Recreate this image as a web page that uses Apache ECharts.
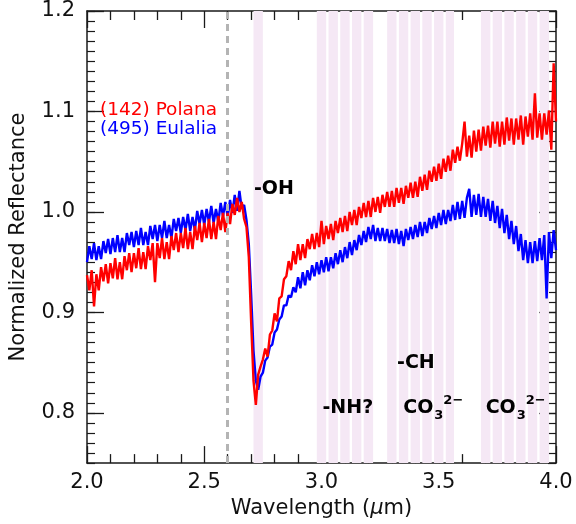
<!DOCTYPE html>
<html>
<head>
<meta charset="utf-8">
<script src="https://cdn.jsdelivr.net/npm/echarts@6/dist/echarts.min.js"></script>
<style>
html,body{margin:0;padding:0;background:#fff;}
#chart{width:576px;height:524px;}
</style>
</head>
<body>
<div id="chart"></div>
<script>
// Wavelength grid (µm): start and spacing of the spectra samples
const wavelengthStart = 2.0;
const wavelengthStep = 0.01;

// (142) Polana normalized reflectance, 2.00 .. 4.00 µm
const polana = [
0.937,0.922,0.942,0.906,0.938,0.922,0.945,0.931,0.948,0.929,
0.949,0.934,0.954,0.933,0.950,0.933,0.956,0.942,0.959,0.940,
0.959,0.944,0.964,0.943,0.960,0.943,0.966,0.952,0.969,0.930,
0.969,0.954,0.974,0.953,0.970,0.953,0.976,0.962,0.979,0.960,
0.979,0.964,0.984,0.963,0.980,0.963,0.986,0.972,0.989,0.970,
0.989,0.974,0.993,0.973,0.990,0.973,0.996,0.982,0.999,0.980,
0.999,0.988,1.008,0.997,1.014,1.000,1.010,0.993,0.985,0.955,
0.890,0.832,0.808,0.838,0.846,0.853,0.864,0.856,0.878,0.882,
0.899,0.891,0.914,0.916,0.933,0.936,0.951,0.942,0.961,0.948,
0.968,0.952,0.968,0.954,0.973,0.963,0.978,0.963,0.979,0.965,
0.991,0.968,0.986,0.973,0.988,0.972,0.991,0.979,0.994,0.980,
0.996,0.981,1.000,0.987,1.002,0.987,1.005,0.994,1.009,0.995,
1.011,0.995,1.014,1.000,1.015,0.999,1.017,1.005,1.020,1.005,
1.021,1.005,1.024,1.009,1.024,1.008,1.026,1.014,1.029,1.014,
1.030,1.015,1.035,1.021,1.037,1.022,1.041,1.030,1.045,1.031,
1.048,1.033,1.053,1.040,1.056,1.041,1.062,1.049,1.065,1.051,
1.068,1.090,1.055,1.076,1.054,1.081,1.060,1.082,1.061,1.085,
1.066,1.086,1.064,1.090,1.068,1.090,1.065,1.090,1.067,1.094,
1.071,1.093,1.067,1.093,1.072,1.096,1.067,1.095,1.075,1.098,
1.072,1.118,1.074,1.098,1.072,1.098,1.077,1.101,1.062,1.148,
1.090
];

// (495) Eulalia normalized reflectance, 2.00 .. 4.00 µm
const eulalia = [
0.950,0.966,0.953,0.969,0.952,0.966,0.953,0.971,0.959,0.973,
0.958,0.974,0.960,0.977,0.960,0.974,0.960,0.979,0.967,0.980,
0.965,0.981,0.967,0.984,0.967,0.980,0.967,0.986,0.973,0.987,
0.971,0.987,0.974,0.991,0.974,0.987,0.974,0.993,0.981,0.994,
0.979,0.995,0.982,0.998,0.981,0.995,0.982,1.001,0.988,1.002,
0.987,1.003,0.990,1.006,0.989,1.003,0.990,1.009,0.996,1.010,
0.995,1.012,0.999,1.017,1.001,1.021,1.003,1.007,0.992,0.968,
0.918,0.862,0.832,0.823,0.836,0.840,0.852,0.855,0.866,0.868,
0.880,0.883,0.893,0.896,0.907,0.907,0.917,0.915,0.925,0.920,
0.935,0.924,0.940,0.927,0.942,0.932,0.947,0.936,0.950,0.938,
0.952,0.940,0.955,0.941,0.955,0.944,0.959,0.948,0.962,0.950,
0.965,0.954,0.970,0.957,0.972,0.962,0.977,0.967,0.981,0.970,
0.985,0.973,0.987,0.971,0.984,0.971,0.984,0.971,0.983,0.969,
0.982,0.969,0.983,0.968,0.981,0.966,0.983,0.972,0.985,0.973,
0.987,0.975,0.990,0.976,0.990,0.979,0.994,0.983,0.996,0.984,
0.999,0.987,1.002,0.988,1.002,0.991,1.007,0.992,1.010,0.993,
1.011,0.994,1.014,1.023,0.995,1.017,0.997,1.018,0.995,1.015,
0.995,1.013,0.991,1.011,0.989,1.006,0.984,1.003,0.979,0.997,
0.973,0.991,0.968,0.986,0.961,0.978,0.952,0.972,0.949,0.970,
0.949,0.971,0.951,0.974,0.952,0.977,0.914,0.980,0.954,0.982,
0.962
];

// Absorption band regions (µm)
const bandStart = [2.71, 2.98, 3.03, 3.08, 3.13, 3.18, 3.28, 3.33, 3.38, 3.43, 3.48, 3.53, 3.68, 3.73, 3.78, 3.83, 3.88, 3.93];
const bandEnd   = [2.75, 3.02, 3.07, 3.12, 3.17, 3.22, 3.32, 3.37, 3.42, 3.47, 3.52, 3.565, 3.72, 3.77, 3.82, 3.87, 3.92, 3.97];

// Reference wavelength line
const refLine = [2.6];

// Axis ticks
const xMin = 2.0, xMax = 4.0, xInterval = 0.5;
const yMin = 0.75, yMax = 1.2;
const yLabelTicks = [0.8, 0.9, 1.0, 1.1, 1.2];

const seriesNames = ['(142) Polana', '(495) Eulalia'];

const wl = polana.map((_, i) => +(wavelengthStart + i * wavelengthStep).toFixed(3));
const polanaData = polana.map((v, i) => [wl[i], v]);
const eulaliaData = eulalia.map((v, i) => [wl[i], v]);

const FONT = 'DejaVu Sans';
const AXC = '#1a1a1a';

const chart = echarts.init(document.getElementById('chart'), null, {renderer: 'canvas'});

function xAx(pos, labels) {
  return {
    type: 'value', position: pos, min: xMin, max: xMax, interval: xInterval,
    axisLine: {show: true, onZero: false, lineStyle: {color: AXC, width: 1.5}},
    axisTick: {show: true, inside: true, length: 17, lineStyle: {color: AXC, width: 1.3}},
    minorTick: {show: true, splitNumber: 5, length: 9, lineStyle: {color: AXC, width: 1.3}},
    splitLine: {show: false},
    axisLabel: labels ? {show: true, margin: 9, color: '#111', fontFamily: FONT, fontSize: 21,
      formatter: v => v.toFixed(1)} : {show: false},
    name: labels ? '{n|Wavelength (}{i|μ}{n|m)}' : '',
    nameLocation: 'middle', nameGap: 28,
    nameTextStyle: {rich: {
      n: {fontFamily: FONT, fontSize: 21, color: '#111'},
      i: {fontFamily: FONT, fontSize: 21, color: '#111', fontStyle: 'italic'}
    }}
  };
}
function yMajor(pos, labels) {
  return {
    type: 'value', position: pos, min: yMin, max: yMax, interval: 0.05,
    axisLine: {show: true, onZero: false, lineStyle: {color: AXC, width: 1.5}},
    axisTick: {show: true, inside: true, length: 17, customValues: yLabelTicks, lineStyle: {color: AXC, width: 1.3}},
    splitLine: {show: false},
    axisLabel: labels ? {show: true, margin: 12, color: '#111', fontFamily: FONT, fontSize: 21,
      customValues: yLabelTicks, formatter: v => v.toFixed(1)} : {show: false},
    name: labels ? 'Normalized Reflectance' : '',
    nameLocation: 'middle', nameGap: 58,
    nameTextStyle: {fontFamily: FONT, fontSize: 21, color: '#111'}
  };
}
function yMinor(pos) {
  return {
    type: 'value', position: pos, offset: 0, min: yMin, max: yMax, interval: 0.01,
    axisLine: {show: false},
    axisTick: {show: true, inside: true, length: 8, lineStyle: {color: AXC, width: 1.2}},
    splitLine: {show: false},
    axisLabel: {show: false}
  };
}

const option = {
  animation: false,
  backgroundColor: '#fff',
  grid: {left: 84, right: 20, top: 11, bottom: 57.5, containLabel: false},
  xAxis: [xAx('bottom', true), xAx('top', false)],
  yAxis: [yMajor('left', true), yMinor('left'), yMajor('right', false), yMinor('right')],
  legend: {
    show: true, orient: 'vertical', left: 90, top: 96, itemGap: 0,
    itemWidth: 0, itemHeight: 0, icon: 'none', selectedMode: false,
    data: [
      {name: seriesNames[0], textStyle: {color: '#ff0000'}},
      {name: seriesNames[1], textStyle: {color: '#0000ff'}}
    ],
    textStyle: {fontFamily: FONT, fontSize: 18.5}
  },
  series: [
    {
      type: 'line', name: '_bands', xAxisIndex: 0, yAxisIndex: 0, data: [], z: 1, silent: true,
      markArea: {
        silent: true,
        itemStyle: {color: '#f5e8f5'},
        data: bandStart.map((s, i) => [{xAxis: s}, {xAxis: bandEnd[i]}])
      },
      markLine: {
        silent: true, symbol: 'none', label: {show: false},
        lineStyle: {color: '#b4b4b4', width: 3, type: [7, 5]},
        data: refLine.map(v => ({xAxis: v}))
      }
    },
    {
      type: 'line', name: seriesNames[1], xAxisIndex: 0, yAxisIndex: 0, z: 3,
      data: eulaliaData, showSymbol: false, symbol: 'none', sampling: null,
      lineStyle: {color: '#0000ff', width: 2.4}, itemStyle: {color: '#0000ff'}
    },
    {
      type: 'line', name: seriesNames[0], xAxisIndex: 0, yAxisIndex: 0, z: 4,
      data: polanaData, showSymbol: false, symbol: 'none', sampling: null,
      lineStyle: {color: '#ff0000', width: 2.4}, itemStyle: {color: '#ff0000'}
    }
  ]
};
chart.setOption(option);

// Annotations anchored in data coordinates
const annots = [
  {text: '-OH', at: [2.712, 1.023]},
  {text: '-NH?', at: [3.004, 0.805]},
  {text: '-CH', at: [3.322, 0.850]},
  {text: 'CO', sub: '3', sup: '2\u2212', at: [3.349, 0.805]},
  {text: 'CO', sub: '3', sup: '2\u2212', at: [3.700, 0.805]}
];
const graphics = [];
annots.forEach(a => {
  const p = chart.convertToPixel({xAxisIndex: 0, yAxisIndex: 0}, a.at);
  const base = {fontFamily: FONT, fontWeight: 'bold', fill: '#000'};
  graphics.push({type: 'text', x: p[0], y: p[1], z: 10, silent: true,
    style: Object.assign({text: a.text, fontSize: 19, textAlign: 'left', textVerticalAlign: 'middle'}, base)});
  if (a.sub) {
    graphics.push({type: 'text', x: p[0] + 31, y: p[1] + 8, z: 10, silent: true,
      style: Object.assign({text: a.sub, fontSize: 13, textAlign: 'left', textVerticalAlign: 'middle'}, base)});
    graphics.push({type: 'text', x: p[0] + 40, y: p[1] - 7, z: 10, silent: true,
      style: Object.assign({text: a.sup, fontSize: 13, textAlign: 'left', textVerticalAlign: 'middle'}, base)});
  }
});
chart.setOption({graphic: graphics});
</script>
</body>
</html>
